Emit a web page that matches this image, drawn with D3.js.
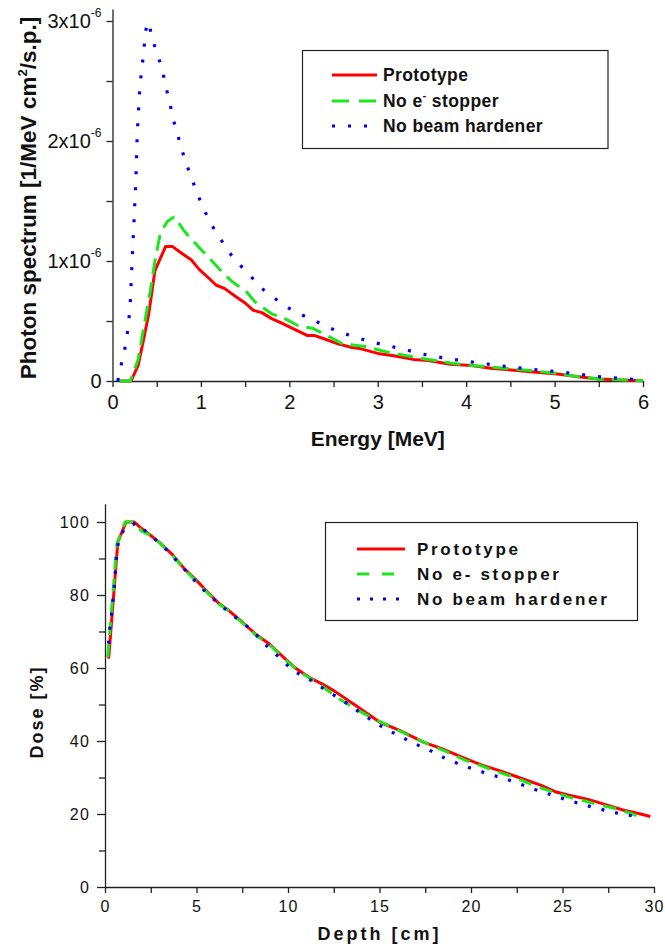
<!DOCTYPE html>
<html><head><meta charset="utf-8">
<script src="https://cdn.jsdelivr.net/npm/d3@7"></script>
<style>
html,body{margin:0;padding:0;background:#fff;}
svg{display:block;}
</style></head>
<body>
<script>
// ---------- DATA: top chart (photon spectrum, units of 1e-6 1/MeV cm^2/s.p.) ----------
const seriesNames = ["Prototype", "No e- stopper", "No beam hardener"];
const energyTicks = [0, 1, 2, 3, 4, 5, 6];
const spectrumTicks = [0, 1, 2, 3];
const spectrumTickLabels = ["0", "1x10|-6", "2x10|-6", "3x10|-6"];

const protoE = [0.09,0.21,0.29,0.35,0.41,0.48,0.6,0.68,0.79,0.89,0.98,1.1,1.17,1.27,1.4,1.5,1.59,1.69,1.8,1.92,2.03,2.2,2.28,2.4,2.55,2.7,2.8,3.0,3.18,3.4,3.57,3.82,4.06,4.3,4.54,4.79,5.03,5.27,5.5,5.76,6.0];
const protoS = [0,0,0.13,0.34,0.56,0.92,1.12,1.12,1.06,1.01,0.93,0.85,0.80,0.77,0.70,0.65,0.59,0.57,0.52,0.48,0.44,0.38,0.38,0.35,0.31,0.28,0.27,0.23,0.21,0.18,0.17,0.14,0.13,0.105,0.09,0.072,0.058,0.036,0.017,0.008,0.003];

const noStopE = [0.08,0.2,0.29,0.35,0.43,0.48,0.54,0.62,0.7,0.81,0.97,1.1,1.25,1.35,1.52,1.61,1.8,1.95,2.1,2.26,2.45,2.6,2.84,3.09,3.33,3.57,3.82,4.06,4.54,5.03,5.27,5.5,5.8,6.0];
const noStopS = [0,0,0.18,0.43,0.76,1.0,1.23,1.33,1.37,1.25,1.12,1.02,0.90,0.83,0.74,0.66,0.56,0.52,0.46,0.44,0.37,0.31,0.29,0.245,0.21,0.18,0.15,0.13,0.10,0.064,0.036,0.017,0.008,0.003];

const noHardE = [0.06,0.09,0.13,0.16,0.185,0.2,0.215,0.232,0.248,0.264,0.28,0.29,0.30,0.31,0.33,0.35,0.367,0.39,0.42,0.445,0.51,0.565,0.60,0.645,0.68,0.73,0.775,0.83,0.90,0.965,1.04,1.13,1.25,1.37,1.53,1.69,1.87,2.05,2.24,2.43,2.6,2.77,2.96,3.14,3.32,3.5,3.68,3.86,4.05,4.3,4.58,4.85,5.13,5.49,5.85,6.0];
const noHardS = [0,0.11,0.23,0.35,0.51,0.63,0.89,1.15,1.41,1.67,2.06,2.20,2.33,2.46,2.59,2.72,2.86,2.99,2.96,2.86,2.72,2.59,2.46,2.33,2.20,2.07,1.95,1.82,1.68,1.55,1.42,1.29,1.15,1.02,0.90,0.77,0.67,0.58,0.52,0.45,0.40,0.36,0.32,0.29,0.26,0.225,0.20,0.18,0.16,0.135,0.11,0.09,0.07,0.036,0.017,0.005];

// ---------- DATA: bottom chart (depth dose, %) ----------
const depthTicks = [0, 5, 10, 15, 20, 25, 30];
const doseTicks = [0, 20, 40, 60, 80, 100];

const protoD = [0.2,0.7,1.15,1.6,2.0,2.5,3.0,3.7,4.3,5.0,5.6,6.2,6.8,7.5,8.2,9.0,9.7,10.4,11.2,11.8,12.5,13.7,15.0,16.1,17.4,18.4,19.7,20.6,21.6,22.5,23.8,24.6,25.3,26.4,27.4,28.3,29.1,29.8];
const protoDose = [62.6,94.5,100,100,98.2,96.3,94.3,91,87.4,84,80.8,77.8,75.6,72.6,69.4,66.5,63.2,60,57.3,55.8,53.8,49.7,45.2,42.9,39.7,37.9,35.2,33.4,31.8,30.2,27.9,26.1,25.2,24,22.5,21.1,20.2,19.3];

const noStopD = [0.15,0.65,1.1,1.6,2.0,2.5,3.0,3.7,4.3,5.0,5.6,6.2,6.8,7.5,8.2,9.0,9.7,10.4,11.2,12.0,12.8,13.7,14.6,15.7,16.6,17.6,18.6,19.7,20.5,21.2,22.4,23.6,24.4,25.3,26.2,27.0,27.9,28.7,29.3];
const noStopDose = [63,94,100,100,97.5,96.3,94.2,90.8,87.2,83.7,80.6,77.6,75.5,72.4,69.2,66.3,63,59.8,57.2,54.5,51.5,48.8,46.3,43.8,41.5,39.3,37.2,34.7,33.3,32,30,27.5,26.2,24.7,23.6,22.5,21.5,20.2,19.1];

const noHardD = [0.2,0.25,0.35,0.5,0.62,0.73,1.05,1.7,2.5,3.3,4.1,4.8,5.5,6.3,7.1,8.0,8.7,9.5,10.3,11.3,12.1,12.9,13.7,14.5,15.3,16.2,17.0,17.8,18.6,19.4,20.2,21.0,21.9,22.7,23.5,24.3,25.1,25.9,26.7,27.5,28.3,29.1];
const noHardDose = [66.7,70.3,74.4,82,90.4,94.5,98.2,99.7,96.3,92.7,88.4,84.5,80.8,77.2,74,70.5,66.7,63,59.2,56.5,53.8,51.4,48.6,45.9,43.4,41.1,39.1,37.3,35.2,33.6,32.2,30.9,29.6,28.2,26.7,25.4,24.1,22.9,21.8,20.8,19.9,19.3];

// ---------- STYLE ----------
const colors = ["#ff0000", "#1ee61e", "#0000ee"];
const FONT = "'Liberation Sans', Arial, sans-serif";

const W = 665, H = 946;
const svg = d3.select("body").append("svg").attr("width", W).attr("height", H)
  .style("font-family", FONT);

const zip = (xs, ys) => xs.map((x, i) => [x, ys[i]]);

// ================= TOP CHART =================
const xT = d3.scaleLinear().domain([0, 6]).range([112.5, 643]);
const yT = d3.scaleLinear().domain([0, 3.1]).range([381, 9]);

const gTop = svg.append("g");

const xMinorT = d3.range(0.5, 6, 1);
const yMinorT = [0.5, 1.5, 2.5];

gTop.append("g").attr("transform", `translate(0,${yT(0)})`)
  .call(d3.axisBottom(xT).tickValues(energyTicks).tickSize(6).tickPadding(8).tickSizeOuter(0).tickFormat(d3.format("d")));
gTop.append("g").attr("transform", `translate(0,${yT(0)})`)
  .call(d3.axisBottom(xT).tickValues(xMinorT).tickSize(6).tickSizeOuter(0).tickFormat(""))
  .select(".domain").remove();
const yAxT = gTop.append("g").attr("transform", `translate(${xT(0)},0)`)
  .call(d3.axisLeft(yT).tickValues(spectrumTicks).tickSize(6).tickPadding(5).tickSizeOuter(0)
    .tickFormat((d, i) => spectrumTickLabels[i]));
gTop.append("g").attr("transform", `translate(${xT(0)},0)`)
  .call(d3.axisLeft(yT).tickValues(yMinorT).tickSize(6).tickSizeOuter(0).tickFormat(""))
  .select(".domain").remove();

gTop.selectAll(".tick text").attr("font-size", 20).attr("fill", "#111").style("font-family", FONT);
yAxT.selectAll(".tick text").each(function (d, i) {
  const lab = spectrumTickLabels[i];
  if (lab.indexOf("|") < 0) return;
  const [base, exp] = lab.split("|");
  const t = d3.select(this).text(null);
  t.append("tspan").text(base);
  t.append("tspan").attr("dy", -11).attr("font-size", 12).text(exp);
});
gTop.selectAll(".domain, .tick line").attr("stroke", "#222").attr("stroke-width", 1.3);

const lineT = d3.line().x(d => xT(d[0])).y(d => yT(d[1]));
const topSeries = [zip(protoE, protoS), zip(noStopE, noStopS), zip(noHardE, noHardS)];
const dashT = [null, "16,8", "3,13"];
topSeries.forEach((s, i) => {
  gTop.append("path").datum(s).attr("d", lineT).attr("fill", "none")
    .attr("stroke", colors[i]).attr("stroke-width", i === 2 ? 3.2 : 3)
    .attr("stroke-linejoin", "round")
    .attr("stroke-dasharray", dashT[i]);
});

gTop.append("text").attr("x", (xT(0) + xT(6)) / 2).attr("y", 446)
  .attr("text-anchor", "middle").attr("font-size", 21).attr("font-weight", "bold")
  .attr("fill", "#111").text("Energy [MeV]");
const yTitle = gTop.append("text")
  .attr("transform", "translate(36,198) rotate(-90)")
  .attr("text-anchor", "middle").attr("font-size", 22.5).attr("font-weight", "bold").attr("fill", "#111");
yTitle.append("tspan").text("Photon spectrum [1/MeV cm");
yTitle.append("tspan").attr("dy", -9).attr("font-size", 13).text("2");
yTitle.append("tspan").attr("dy", 9).text("/s.p.]");

const legT = gTop.append("g");
legT.append("rect").attr("x", 302.5).attr("y", 50.5).attr("width", 305.5).attr("height", 98)
  .attr("fill", "#fff").attr("stroke", "#222").attr("stroke-width", 1.2);
const legTY = [75, 101, 126];
seriesNames.forEach((n, i) => {
  legT.append("line").attr("x1", 332).attr("x2", 377).attr("y1", legTY[i]).attr("y2", legTY[i])
    .attr("stroke", colors[i]).attr("stroke-width", 3)
    .attr("stroke-dasharray", i === 1 ? "17,10" : (i === 2 ? "3,13" : null));
  const t = legT.append("text").attr("x", 383).attr("y", legTY[i] + 6)
    .attr("font-size", 17.5).attr("font-weight", "bold").style("letter-spacing", "0.4px").attr("fill", "#111");
  if (i === 1) {
    t.append("tspan").text("No e");
    t.append("tspan").attr("dy", -8).attr("font-size", 11).text("-");
    t.append("tspan").attr("dy", 8).text(" stopper");
  } else t.text(n);
});

// ================= BOTTOM CHART =================
const xB = d3.scaleLinear().domain([0, 30]).range([105, 654]);
const yB = d3.scaleLinear().domain([0, 105]).range([887, 503.75]);
const gBot = svg.append("g");

gBot.append("g").attr("transform", `translate(0,${yB(0)})`)
  .call(d3.axisBottom(xB).tickValues(depthTicks).tickSize(6).tickPadding(8).tickSizeOuter(0));
gBot.append("g").attr("transform", `translate(0,${yB(0)})`)
  .call(d3.axisBottom(xB).tickValues(d3.range(2.5, 30, 5)).tickSize(6).tickSizeOuter(0).tickFormat(""))
  .select(".domain").remove();
gBot.append("g").attr("transform", `translate(${xB(0)},0)`)
  .call(d3.axisLeft(yB).tickValues(doseTicks).tickSize(8).tickPadding(7).tickSizeOuter(0));
gBot.append("g").attr("transform", `translate(${xB(0)},0)`)
  .call(d3.axisLeft(yB).tickValues(d3.range(10, 100, 20)).tickSize(6).tickSizeOuter(0).tickFormat(""))
  .select(".domain").remove();
gBot.selectAll(".tick text").attr("font-size", 16).attr("fill", "#111")
  .style("letter-spacing", "1.2px").style("font-family", FONT);
gBot.selectAll(".domain, .tick line").attr("stroke", "#222").attr("stroke-width", 1.3);

const lineB = d3.line().x(d => xB(d[0])).y(d => yB(d[1]));
const botSeries = [zip(protoD, protoDose), zip(noStopD, noStopDose), zip(noHardD, noHardDose)];
const dashB = [null, "13,9", "3,11"];
botSeries.forEach((s, i) => {
  gBot.append("path").datum(s).attr("d", lineB).attr("fill", "none")
    .attr("stroke", colors[i]).attr("stroke-width", i === 2 ? 3.2 : 3)
    .attr("stroke-linejoin", "round")
    .attr("stroke-dasharray", dashB[i]);
});

gBot.append("text").attr("x", (xB(0) + xB(30)) / 2).attr("y", 940)
  .attr("text-anchor", "middle").attr("font-size", 18).attr("font-weight", "bold")
  .style("letter-spacing", "3px").attr("fill", "#111").text("Depth [cm]");
gBot.append("text").attr("transform", "translate(43,712) rotate(-90)")
  .attr("text-anchor", "middle").attr("font-size", 18).attr("font-weight", "bold")
  .style("letter-spacing", "2px").attr("fill", "#111").text("Dose [%]");

const legB = gBot.append("g");
legB.append("rect").attr("x", 325.5).attr("y", 522.5).attr("width", 312).attr("height", 98)
  .attr("fill", "#fff").attr("stroke", "#222").attr("stroke-width", 1.2);
const legBY = [549, 574, 599];
seriesNames.forEach((n, i) => {
  legB.append("line").attr("x1", 357).attr("x2", 405).attr("y1", legBY[i]).attr("y2", legBY[i])
    .attr("stroke", colors[i]).attr("stroke-width", 3)
    .attr("stroke-dasharray", i === 1 ? "12,13" : (i === 2 ? "3,10" : null));
  legB.append("text").attr("x", 417).attr("y", legBY[i] + 6)
    .attr("font-size", 17).attr("font-weight", "bold").style("letter-spacing", "2.7px")
    .attr("fill", "#111").text(n);
});
</script>
</body></html>
